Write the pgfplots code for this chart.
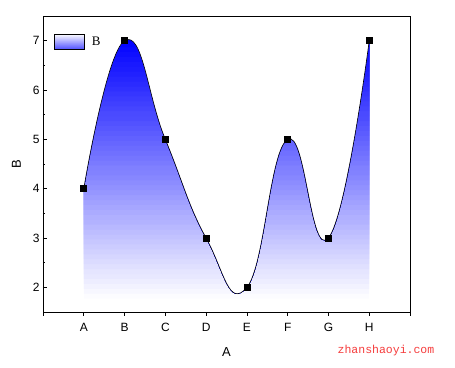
\documentclass[border=0pt]{standalone}
\usepackage{pgfplots}
\pgfplotsset{compat=1.18}
\usepgfplotslibrary{fillbetween}
\usepackage{fontspec}
\setmainfont{Liberation Sans}
\newfontfamily\seriffont{Liberation Serif}
\newfontfamily\monofont{Liberation Mono}
\definecolor{wm}{RGB}{245,60,60}
\begin{document}
\begin{tikzpicture}
\begin{axis}[
  scale only axis,
  width=367pt, height=296pt,
  xmin=-1, xmax=8, ymin=1.5, ymax=7.5,
  xtick={-1,0,1,2,3,4,5,6,7,8},
  xticklabels={,A,B,C,D,E,F,G,H,},
  ytick={2,3,4,5,6,7},
  minor y tick num=1,
  xtick pos=bottom, ytick pos=left,
  tick align=inside,
  major tick length=4pt, minor tick length=2.5pt,
  x tick style={yshift=-4pt},
  tick style={black, line width=0.6pt},
  axis line style={line width=0.8pt},
  axis on top,
  /pgf/number format/assume math mode=true,
  tick label style={font=\fontsize{12}{14}\selectfont},
  xticklabel style={yshift=-8pt},
  xlabel={A}, ylabel={B},
  label style={font=\fontsize{13}{15}\selectfont},
  xlabel style={yshift=-9pt},
  ylabel style={yshift=5pt},
  legend style={draw=none, fill=none, at={(0.03,0.94)}, anchor=north west, inner sep=0pt,
    column sep=5pt, font=\seriffont\fontsize{13}{15}\selectfont},
  legend cell align=left,
]
\addplot[name path=curve, draw=none, smooth, tension=0.8, forget plot] coordinates {(0,4) (1,7) (2,5) (3,3) (4,2) (5,5) (6,3) (7,7)};
\pgfplotsinvokeforeach{0,...,53}{%
  \pgfmathsetmacro\ylow{1.77+0.1*#1}%
  \pgfmathtruncatemacro\pct{min(100,round(100*(0.1*#1+0.05)/5.25))}%
  \edef\tmp{\noexpand\addplot[name path=b#1, draw=none, forget plot] coordinates {(0,\ylow) (7,\ylow)};%
    \noexpand\addplot[fill=blue!\pct!white, draw=none, forget plot] fill between[of=curve and b#1];}%
  \tmp
}
\addplot[name path=topp, draw=none, forget plot] coordinates {(-0.5,4) (-0.5,7.45) (7.5,7.45) (7.5,7)};
\addplot[fill=white, draw=none, forget plot] fill between[of=curve and topp];
\addplot[black, line width=0.6pt, smooth, tension=0.8, mark=square*, mark size=3pt, mark options={solid, fill=black}, forget plot] coordinates {(0,4) (1,7) (2,5) (3,3) (4,2) (5,5) (6,3) (7,7)};
\addlegendimage{legend image code/.code={%
  \foreach \i in {0,...,14} {\pgfmathtruncatemacro\lp{round(4.5*\i)}\fill[blue!\lp!white] (0pt,{7.5pt-\i pt-1pt}) rectangle (30pt,{7.5pt-\i pt});}%
  \draw[black, line width=0.6pt] (0pt,-7.5pt) rectangle (30pt,7.5pt);}}
\addlegendentry{B}
\end{axis}
\node[text=wm, font=\monofont\fontsize{11.5}{13}\selectfont] at ([shift={(-24pt,-39pt)}]current axis.south east) {zhanshaoyi.com};
\pgfresetboundingbox
\path ([shift={(-43pt,-56pt)}]current axis.south west) rectangle ([shift={(45pt,16pt)}]current axis.north east);
\end{tikzpicture}
\end{document}
